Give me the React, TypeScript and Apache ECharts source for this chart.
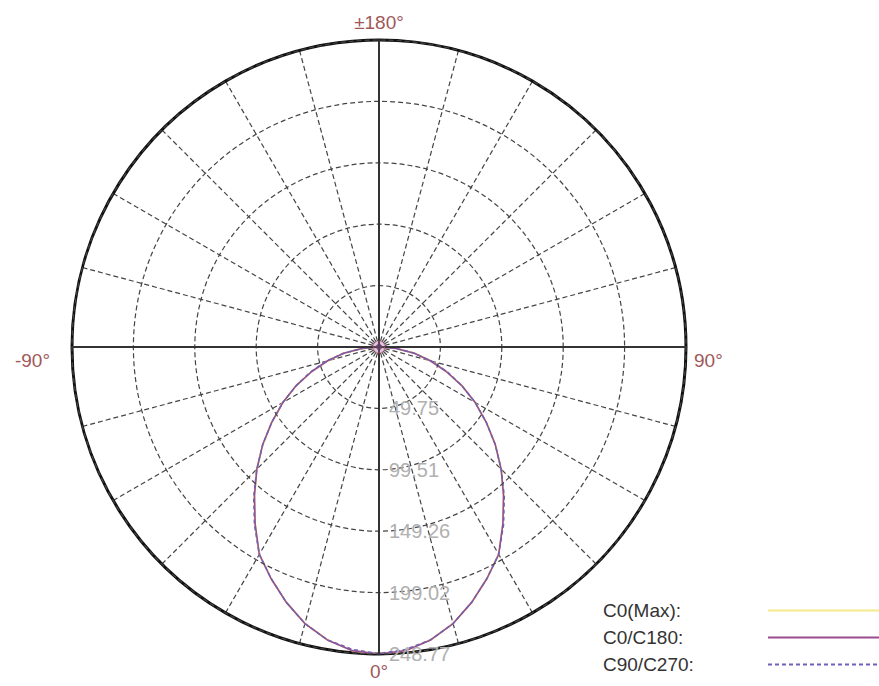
import React, { useEffect, useRef } from "react";
import * as echarts from "echarts";

// Angles (degrees, 0 = straight down, -90 left, 90 right)
const ANGLES = [-90, -85, -80, -75, -70, -65, -60, -55, -50, -45, -40, -35, -30, -25, -20, -15, -10, -5, 0,
  5, 10, 15, 20, 25, 30, 35, 40, 45, 50, 55, 60, 65, 70, 75, 80, 85, 90];

// Luminous intensity values
const C0_MAX = [0, 14, 29, 43, 58, 74, 90, 106, 123, 140, 157, 175, 194, 207, 220, 232, 241, 247, 248.77,
  247, 241, 232, 220, 207, 194, 175, 157, 140, 123, 106, 90, 74, 58, 43, 29, 14, 0];
const C0_C180 = [0, 14, 29, 43, 58, 74, 90, 106, 123, 140, 157, 175, 194, 207, 220, 232, 241, 247, 248.77,
  247, 241, 232, 220, 207, 194, 175, 157, 140, 123, 106, 90, 74, 58, 43, 29, 14, 0];
const C90_C270 = [0, 14, 29, 44, 59, 74, 90, 106, 123, 140, 158, 176, 194, 207, 220, 232, 241, 246, 248.5,
  246, 241, 232, 220, 207, 194, 176, 158, 140, 123, 106, 90, 74, 59, 44, 29, 14, 0];

const RADIUS_TICKS = ["", "49.75", "99.51", "149.26", "199.02", "248.77"];
const R_MAX = 248.77;
const ANGLE_LABELS: Record<number, string> = { 0: "0°", 90: "90°", 180: "±180°", 270: "-90°" };
const LEGEND_NAMES = ["C0(Max):", "C0/C180:", "C90/C270:"];

const NARROW = "'Liberation Sans Narrow', 'Arial Narrow', 'Liberation Sans', sans-serif";

const toPolar = (vals: number[]) =>
  vals.map((v, i) => [v, ANGLES[i] < 0 ? ANGLES[i] + 360 : ANGLES[i]]);

export default function App() {
  const ref = useRef<HTMLDivElement>(null);
  useEffect(() => {
    if (!ref.current) return;
    const chart = echarts.init(ref.current, undefined, { renderer: "svg" });
    const center = [379, 347];
    const radius = 307;
    const extraPolar = [0, 90, 180];
    const option: any = {
      animation: false,
      backgroundColor: "#ffffff",
      polar: [
        { center, radius },
        ...extraPolar.map(() => ({ center, radius })),
      ],
      angleAxis: [
        {
          polarIndex: 0,
          type: "value",
          min: 0,
          max: 360,
          interval: 15,
          startAngle: 270,
          clockwise: false,
          axisLine: { show: true, lineStyle: { color: "#111", width: 3 } },
          axisTick: { show: false },
          axisLabel: {
            show: true,
            margin: 8,
            color: "#a0585a",
            fontSize: 19,
            fontFamily: NARROW,
            formatter: (v: number) => {
              const t = ANGLE_LABELS[v];
              if (!t) return "";
              if (v === 90) return "{s|" + t + "}";
              if (v === 270) return "{l|" + t + "}";
              return t;
            },
            rich: {
              s: { color: "#a0585a", fontSize: 19, fontFamily: NARROW, padding: [26, 0, 0, 0] },
              l: { color: "#a0585a", fontSize: 19, fontFamily: NARROW, padding: [26, 14, 0, 0] },
            },
          },
          splitLine: { show: true, lineStyle: { color: "#444", width: 1.2, type: [5, 3] } },
        },
        ...extraPolar.map((a, i) => ({
          polarIndex: i + 1,
          type: "value",
          min: 0,
          max: 360,
          startAngle: a,
          axisLine: { show: false },
          axisTick: { show: false },
          axisLabel: { show: false },
          splitLine: { show: false },
        })),
      ],
      radiusAxis: [
        {
          polarIndex: 0,
          min: 0,
          max: R_MAX,
          interval: R_MAX / 5,
          axisLine: { show: true, lineStyle: { color: "#333", width: 2 } },
          axisTick: { show: false },
          axisLabel: {
            show: true,
            margin: 10,
            color: "#b0b0b0",
            fontSize: 20,
            fontFamily: NARROW,
            formatter: (v: number) => RADIUS_TICKS[Math.round(v / (R_MAX / 5))] || "",
          },
          splitLine: { show: true, lineStyle: { color: "#444", width: 1.2, type: [5, 3] } },
          z: 5,
        },
        ...extraPolar.map((_, i) => ({
          polarIndex: i + 1,
          min: 0,
          max: R_MAX,
          axisLine: { show: true, lineStyle: { color: "#333", width: 2 } },
          axisTick: { show: false },
          axisLabel: { show: false },
          splitLine: { show: false },
          z: 5,
        })),
      ],
      legend: {
        orient: "vertical",
        left: 598,
        top: 596,
        align: "right",
        itemWidth: 115,
        itemHeight: 14,
        itemGap: 8,
        data: LEGEND_NAMES,
        itemStyle: { opacity: 0 },
        formatter: (n: string) => "{a|" + n + "}",
        textStyle: {
          fontSize: 19,
          fontFamily: NARROW,
          color: "#333",
          rich: { a: { width: 160, align: "left", fontSize: 19, fontFamily: NARROW, color: "#333" } },
        },
      },
      series: [
        {
          name: LEGEND_NAMES[0],
          type: "line",
          coordinateSystem: "polar",
          polarIndex: 0,
          symbol: "none",
          data: toPolar(C0_MAX),
          lineStyle: { color: "#f5ea8c", width: 2 },
          itemStyle: { color: "#f5ea8c" },
          z: 3,
        },
        {
          name: LEGEND_NAMES[1],
          type: "line",
          coordinateSystem: "polar",
          polarIndex: 0,
          symbol: "none",
          data: toPolar(C0_C180),
          lineStyle: { color: "#9a4c8e", width: 1.6 },
          itemStyle: { color: "#9a4c8e" },
          z: 4,
        },
        {
          name: LEGEND_NAMES[2],
          type: "line",
          coordinateSystem: "polar",
          polarIndex: 0,
          symbol: "none",
          data: toPolar(C90_C270),
          lineStyle: { color: "#7060b8", width: 1.5, type: [4, 3] },
          itemStyle: { color: "#7060b8" },
          z: 4,
        },
        {
          name: "center",
          type: "scatter",
          coordinateSystem: "polar",
          polarIndex: 0,
          symbolSize: 12,
          data: [[0, 0]],
          itemStyle: { color: "rgba(170,90,170,0.45)", borderColor: "rgba(190,80,120,0.7)", borderWidth: 1 },
          z: 6,
        },
      ],
    };
    chart.setOption(option);
    return () => chart.dispose();
  }, []);
  return (
    <div
      ref={ref}
      style={{ position: "fixed", left: 0, top: 0, width: 879, height: 686 }}
    />
  );
}
